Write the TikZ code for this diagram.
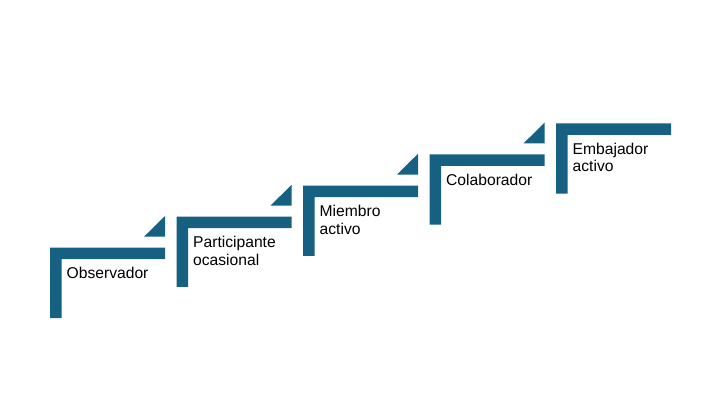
\documentclass[tikz,border=0pt]{standalone}
\usepackage{fontspec}
\setmainfont{Liberation Sans}
\definecolor{StairBlue}{RGB}{22, 96, 130}

\tikzset{steptext/.style={anchor=north west, align=left, inner sep=0pt, font=\fontsize{15.7}{17.7}\selectfont}}

\begin{document}
\begin{tikzpicture}[x=1bp, y=-1bp]
	\useasboundingbox (0, 0) rectangle (720, 405);
	\foreach \i/\txt in {0/Observador, 1/Participante\\ocasional, 2/Miembro\\activo, 3/Colaborador, 4/Embajador\\activo}{
		\begin{scope}[shift={(126.5*\i, -31.1*\i)}]
			\fill[StairBlue] (50, 247.7) -- ++(115, 0) -- ++(0, 11.5) -- ++(-103.3, 0) -- ++(0, 58.8) -- ++(-11.7, 0) -- cycle;
			\node[steptext] (step\i) at (66.5, 267.2) {\txt};
		\end{scope}
	}
	\foreach \i in {0, 1, 2, 3}{
		\fill[StairBlue, shift={(126.5*\i, -31.1*\i)}] (144, 236.7) -- (165, 236.7) -- (165, 216) -- cycle;
	}
\end{tikzpicture}
\end{document}
